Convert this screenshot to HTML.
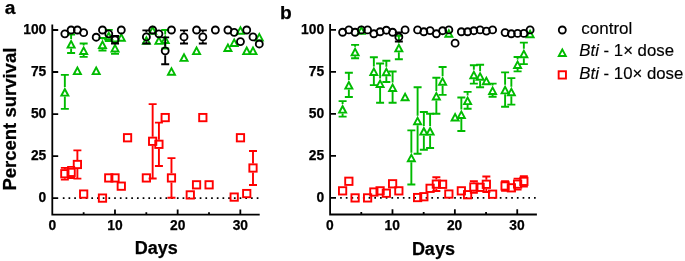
<!DOCTYPE html>
<html><head><meta charset="utf-8"><title>Percent survival</title>
<style>
html,body{margin:0;padding:0;background:#fff;}
body{width:685px;height:261px;overflow:hidden;}
svg{display:block;will-change:transform;}
text{font-family:"Liberation Sans",sans-serif;fill:#000;}
.tk{font-size:13.8px;font-weight:bold;stroke:#000;stroke-width:0.25px;}
.pl{font-size:19.2px;font-weight:bold;stroke:#000;stroke-width:0.25px;}
.yl{font-size:18.5px;font-weight:bold;stroke:#000;stroke-width:0.25px;}
.xl{font-size:18px;font-weight:bold;stroke:#000;stroke-width:0.25px;}
.lg{font-size:17px;stroke:#000;stroke-width:0.15px;}
</style></head><body>
<svg width="685" height="261" viewBox="0 0 685 261">
<rect width="685" height="261" fill="#fff"/>
<path d="M52.3 24.5V214.6H259.7M52.3 198.1h5.9M52.3 156.07h5.9M52.3 114.05h5.9M52.3 72.02h5.9M52.3 30h5.9M83.64 214.6v-2.4M114.98 214.6v-5.2M146.32 214.6v-2.4M177.66 214.6v-5.2M209 214.6v-2.4M240.34 214.6v-5.2" stroke="#000" stroke-width="1.8" fill="none" stroke-linejoin="miter" stroke-linecap="butt"/>
<path d="M62.82 198.1H259.2" stroke="#000" stroke-width="1.7" stroke-dasharray="1.7 4.003" fill="none"/>
<text x="46.3" y="202.45" text-anchor="end" class="tk">0</text>
<text x="46.3" y="160.42" text-anchor="end" class="tk">25</text>
<text x="46.3" y="118.4" text-anchor="end" class="tk">50</text>
<text x="46.3" y="76.37" text-anchor="end" class="tk">75</text>
<text x="46.3" y="34.35" text-anchor="end" class="tk">100</text>
<text x="52.3" y="230.3" text-anchor="middle" class="tk">0</text>
<text x="114.98" y="230.3" text-anchor="middle" class="tk">10</text>
<text x="177.66" y="230.3" text-anchor="middle" class="tk">20</text>
<text x="240.34" y="230.3" text-anchor="middle" class="tk">30</text>
<path d="M64.84 167.84V169.13M64.84 178.33V179.61M60.84 167.84H68.84M60.84 179.61H68.84" stroke="#ff0000" stroke-width="1.9" fill="none"/>
<rect x="61.19" y="170.08" width="7.3" height="7.3" stroke="#ff0000" stroke-width="1.9" fill="none"/>
<path d="M71.12 166.83V167.78M71.12 176.98V177.93M67.12 166.83H75.12M67.12 177.93H75.12" stroke="#ff0000" stroke-width="1.9" fill="none"/>
<rect x="67.47" y="168.73" width="7.3" height="7.3" stroke="#ff0000" stroke-width="1.9" fill="none"/>
<path d="M77.39 150.36V159.88M77.39 169.08V178.6M73.39 150.36H81.39M73.39 178.6H81.39" stroke="#ff0000" stroke-width="1.9" fill="none"/>
<rect x="73.74" y="160.83" width="7.3" height="7.3" stroke="#ff0000" stroke-width="1.9" fill="none"/>
<rect x="80.01" y="190.42" width="7.3" height="7.3" stroke="#ff0000" stroke-width="1.9" fill="none"/>
<rect x="98.83" y="194.45" width="7.3" height="7.3" stroke="#ff0000" stroke-width="1.9" fill="none"/>
<rect x="105.1" y="174.28" width="7.3" height="7.3" stroke="#ff0000" stroke-width="1.9" fill="none"/>
<rect x="111.37" y="174.28" width="7.3" height="7.3" stroke="#ff0000" stroke-width="1.9" fill="none"/>
<rect x="117.64" y="182.51" width="7.3" height="7.3" stroke="#ff0000" stroke-width="1.9" fill="none"/>
<rect x="123.91" y="134.1" width="7.3" height="7.3" stroke="#ff0000" stroke-width="1.9" fill="none"/>
<rect x="142.73" y="174.28" width="7.3" height="7.3" stroke="#ff0000" stroke-width="1.9" fill="none"/>
<path d="M152.65 104.13V136.68M152.65 145.88V178.43M148.65 104.13H156.65M148.65 178.43H156.65" stroke="#ff0000" stroke-width="1.9" fill="none"/>
<rect x="149" y="137.63" width="7.3" height="7.3" stroke="#ff0000" stroke-width="1.9" fill="none"/>
<path d="M158.92 122.62V139.71M158.92 148.91V165.99M154.92 122.62H162.92M154.92 165.99H162.92" stroke="#ff0000" stroke-width="1.9" fill="none"/>
<rect x="155.27" y="140.66" width="7.3" height="7.3" stroke="#ff0000" stroke-width="1.9" fill="none"/>
<rect x="161.55" y="113.93" width="7.3" height="7.3" stroke="#ff0000" stroke-width="1.9" fill="none"/>
<path d="M171.47 158.09V173.33M171.47 182.53V197.76M167.47 158.09H175.47M167.47 197.76H175.47" stroke="#ff0000" stroke-width="1.9" fill="none"/>
<rect x="167.82" y="174.28" width="7.3" height="7.3" stroke="#ff0000" stroke-width="1.9" fill="none"/>
<rect x="186.63" y="191.26" width="7.3" height="7.3" stroke="#ff0000" stroke-width="1.9" fill="none"/>
<rect x="192.91" y="181.17" width="7.3" height="7.3" stroke="#ff0000" stroke-width="1.9" fill="none"/>
<rect x="199.18" y="113.93" width="7.3" height="7.3" stroke="#ff0000" stroke-width="1.9" fill="none"/>
<rect x="205.45" y="181.17" width="7.3" height="7.3" stroke="#ff0000" stroke-width="1.9" fill="none"/>
<rect x="230.54" y="193.44" width="7.3" height="7.3" stroke="#ff0000" stroke-width="1.9" fill="none"/>
<rect x="236.81" y="134.1" width="7.3" height="7.3" stroke="#ff0000" stroke-width="1.9" fill="none"/>
<rect x="243.08" y="189.91" width="7.3" height="7.3" stroke="#ff0000" stroke-width="1.9" fill="none"/>
<path d="M253 151.03V163.41M253 172.61V184.99M249 151.03H257M249 184.99H257" stroke="#ff0000" stroke-width="1.9" fill="none"/>
<rect x="249.35" y="164.36" width="7.3" height="7.3" stroke="#ff0000" stroke-width="1.9" fill="none"/>
<path d="M64.84 74.88V87.11M64.84 96.61V108.84M60.84 74.88H68.84M60.84 108.84H68.84" stroke="#00bb00" stroke-width="1.9" fill="none"/>
<path d="M64.84 87.11L69.94 96.61H59.74ZM64.84 91.13L66.76 94.71H62.92Z" fill="#00bb00" fill-rule="evenodd"/>
<path d="M71.12 34.54V39.03M71.12 48.53V53.03M67.12 34.54H75.12M67.12 53.03H75.12" stroke="#00bb00" stroke-width="1.9" fill="none"/>
<path d="M71.12 39.03L76.22 48.53H66.02ZM71.12 43.05L73.04 46.63H69.2Z" fill="#00bb00" fill-rule="evenodd"/>
<path d="M77.39 65.59L82.49 75.09H72.29ZM77.39 69.61L79.31 73.19H75.47Z" fill="#00bb00" fill-rule="evenodd"/>
<path d="M83.66 43.45V45.42M83.66 54.92V56.9M79.66 43.45H87.66M79.66 56.9H87.66" stroke="#00bb00" stroke-width="1.9" fill="none"/>
<path d="M83.66 45.42L88.76 54.92H78.56ZM83.66 49.44L85.58 53.02H81.74Z" fill="#00bb00" fill-rule="evenodd"/>
<path d="M96.2 65.59L101.3 75.09H91.1ZM96.2 69.61L98.12 73.19H94.28Z" fill="#00bb00" fill-rule="evenodd"/>
<path d="M102.48 38.07V39.54M102.48 49.04V50.51M98.48 38.07H106.48M98.48 50.51H106.48" stroke="#00bb00" stroke-width="1.9" fill="none"/>
<path d="M102.48 39.54L107.58 49.04H97.38ZM102.48 43.56L104.4 47.14H100.56Z" fill="#00bb00" fill-rule="evenodd"/>
<path d="M108.75 29.83V30.63M108.75 40.13V40.93M104.75 29.83H112.75M104.75 40.93H112.75" stroke="#00bb00" stroke-width="1.9" fill="none"/>
<path d="M108.75 30.63L113.85 40.13H103.65ZM108.75 34.65L110.67 38.23H106.83Z" fill="#00bb00" fill-rule="evenodd"/>
<path d="M115.02 41.43V42.9M115.02 52.4V53.87M111.02 41.43H119.02M111.02 53.87H119.02" stroke="#00bb00" stroke-width="1.9" fill="none"/>
<path d="M115.02 42.9L120.12 52.4H109.92ZM115.02 46.92L116.94 50.5H113.1Z" fill="#00bb00" fill-rule="evenodd"/>
<path d="M121.29 32.14L126.39 41.64H116.19ZM121.29 36.16L123.21 39.74H119.37Z" fill="#00bb00" fill-rule="evenodd"/>
<path d="M146.38 35.34L151.48 44.84H141.28ZM146.38 39.36L148.3 42.94H144.46Z" fill="#00bb00" fill-rule="evenodd"/>
<path d="M152.65 25.25L157.75 34.75H147.55ZM152.65 29.27L154.57 32.85H150.73Z" fill="#00bb00" fill-rule="evenodd"/>
<path d="M158.92 35.34L164.02 44.84H153.82ZM158.92 39.36L160.84 42.94H157Z" fill="#00bb00" fill-rule="evenodd"/>
<path d="M165.2 30V34.5M165.2 44V48.49M161.2 30H169.2M161.2 48.49H169.2" stroke="#00bb00" stroke-width="1.9" fill="none"/>
<path d="M165.2 34.5L170.3 44H160.1ZM165.2 38.52L167.12 42.1H163.28Z" fill="#00bb00" fill-rule="evenodd"/>
<path d="M171.47 66.27L176.57 75.77H166.37ZM171.47 70.29L173.39 73.87H169.55Z" fill="#00bb00" fill-rule="evenodd"/>
<path d="M184.01 52.31L189.11 61.81H178.91ZM184.01 56.33L185.93 59.91H182.09Z" fill="#00bb00" fill-rule="evenodd"/>
<path d="M196.56 45.59L201.66 55.09H191.46ZM196.56 49.61L198.48 53.19H194.64Z" fill="#00bb00" fill-rule="evenodd"/>
<path d="M227.92 42.4L233.02 51.9H222.82ZM227.92 46.42L229.84 50H226Z" fill="#00bb00" fill-rule="evenodd"/>
<path d="M234.19 37.52L239.29 47.02H229.09ZM234.19 41.54L236.11 45.12H232.27Z" fill="#00bb00" fill-rule="evenodd"/>
<path d="M240.46 25.25L245.56 34.75H235.36ZM240.46 29.27L242.38 32.85H238.54Z" fill="#00bb00" fill-rule="evenodd"/>
<path d="M246.73 45.59L251.83 55.09H241.63ZM246.73 49.61L248.65 53.19H244.81Z" fill="#00bb00" fill-rule="evenodd"/>
<path d="M253 45.59L258.1 55.09H247.9ZM253 49.61L254.92 53.19H251.08Z" fill="#00bb00" fill-rule="evenodd"/>
<path d="M259.28 31.97L264.38 41.47H254.18ZM259.28 35.99L261.2 39.57H257.36Z" fill="#00bb00" fill-rule="evenodd"/>
<circle cx="64.84" cy="33.87" r="3.5" stroke="#000000" stroke-width="1.85" fill="none"/>
<circle cx="71.12" cy="30" r="3.5" stroke="#000000" stroke-width="1.85" fill="none"/>
<circle cx="77.39" cy="30" r="3.5" stroke="#000000" stroke-width="1.85" fill="none"/>
<circle cx="83.66" cy="32.69" r="3.5" stroke="#000000" stroke-width="1.85" fill="none"/>
<circle cx="96.2" cy="37.23" r="3.5" stroke="#000000" stroke-width="1.85" fill="none"/>
<circle cx="102.48" cy="30" r="3.5" stroke="#000000" stroke-width="1.85" fill="none"/>
<circle cx="108.75" cy="33.87" r="3.5" stroke="#000000" stroke-width="1.85" fill="none"/>
<path d="M111.02 36.05H119.02M111.02 43.45H119.02" stroke="#000000" stroke-width="1.9" fill="none"/>
<circle cx="115.02" cy="39.75" r="3.5" stroke="#000000" stroke-width="1.85" fill="none"/>
<circle cx="121.29" cy="30" r="3.5" stroke="#000000" stroke-width="1.85" fill="none"/>
<path d="M146.38 30.34V32.49M146.38 41.29V43.45M142.38 30.34H150.38M142.38 43.45H150.38" stroke="#000000" stroke-width="1.9" fill="none"/>
<circle cx="146.38" cy="36.89" r="3.5" stroke="#000000" stroke-width="1.85" fill="none"/>
<circle cx="152.65" cy="30" r="3.5" stroke="#000000" stroke-width="1.85" fill="none"/>
<circle cx="158.92" cy="33.87" r="3.5" stroke="#000000" stroke-width="1.85" fill="none"/>
<path d="M165.2 37.4V46.44M165.2 55.24V64.29M161.2 37.4H169.2M161.2 64.29H169.2" stroke="#000000" stroke-width="1.9" fill="none"/>
<circle cx="165.2" cy="50.84" r="3.5" stroke="#000000" stroke-width="1.85" fill="none"/>
<circle cx="171.47" cy="30" r="3.5" stroke="#000000" stroke-width="1.85" fill="none"/>
<path d="M184.01 30.34V32.49M184.01 41.29V43.45M180.01 30.34H188.01M180.01 43.45H188.01" stroke="#000000" stroke-width="1.9" fill="none"/>
<circle cx="184.01" cy="36.89" r="3.5" stroke="#000000" stroke-width="1.85" fill="none"/>
<circle cx="196.56" cy="30" r="3.5" stroke="#000000" stroke-width="1.85" fill="none"/>
<path d="M202.83 30.34V32.49M202.83 41.29V43.45M198.83 30.34H206.83M198.83 43.45H206.83" stroke="#000000" stroke-width="1.9" fill="none"/>
<circle cx="202.83" cy="36.89" r="3.5" stroke="#000000" stroke-width="1.85" fill="none"/>
<circle cx="215.37" cy="30" r="3.5" stroke="#000000" stroke-width="1.85" fill="none"/>
<circle cx="227.92" cy="30" r="3.5" stroke="#000000" stroke-width="1.85" fill="none"/>
<circle cx="234.19" cy="32.35" r="3.5" stroke="#000000" stroke-width="1.85" fill="none"/>
<circle cx="240.46" cy="41.6" r="3.5" stroke="#000000" stroke-width="1.85" fill="none"/>
<circle cx="246.73" cy="30" r="3.5" stroke="#000000" stroke-width="1.85" fill="none"/>
<circle cx="253" cy="36.89" r="3.5" stroke="#000000" stroke-width="1.85" fill="none"/>
<circle cx="259.28" cy="43.95" r="3.5" stroke="#000000" stroke-width="1.85" fill="none"/>
<path d="M330.1 24V214.5H536.9M330.1 197.9h5.9M330.1 155.9h5.9M330.1 113.9h5.9M330.1 71.9h5.9M330.1 29.9h5.9M361.29 214.5v-2.4M392.48 214.5v-5.2M423.67 214.5v-2.4M454.86 214.5v-5.2M486.05 214.5v-2.4M517.24 214.5v-5.2" stroke="#000" stroke-width="1.8" fill="none" stroke-linejoin="miter" stroke-linecap="butt"/>
<path d="M340.1 197.9H536.4" stroke="#000" stroke-width="1.7" stroke-dasharray="1.7 4.003" fill="none"/>
<text x="324.1" y="202.25" text-anchor="end" class="tk">0</text>
<text x="324.1" y="160.25" text-anchor="end" class="tk">25</text>
<text x="324.1" y="118.25" text-anchor="end" class="tk">50</text>
<text x="324.1" y="76.25" text-anchor="end" class="tk">75</text>
<text x="324.1" y="34.25" text-anchor="end" class="tk">100</text>
<text x="329.85" y="230.3" text-anchor="middle" class="tk">0</text>
<text x="392.23" y="230.3" text-anchor="middle" class="tk">10</text>
<text x="454.61" y="230.3" text-anchor="middle" class="tk">20</text>
<text x="516.99" y="230.3" text-anchor="middle" class="tk">30</text>
<rect x="338.95" y="187.19" width="7.3" height="7.3" stroke="#ff0000" stroke-width="1.9" fill="none"/>
<rect x="345.2" y="177.62" width="7.3" height="7.3" stroke="#ff0000" stroke-width="1.9" fill="none"/>
<rect x="351.45" y="194.25" width="7.3" height="7.3" stroke="#ff0000" stroke-width="1.9" fill="none"/>
<rect x="363.95" y="194.25" width="7.3" height="7.3" stroke="#ff0000" stroke-width="1.9" fill="none"/>
<rect x="370.2" y="188.37" width="7.3" height="7.3" stroke="#ff0000" stroke-width="1.9" fill="none"/>
<rect x="376.45" y="187.19" width="7.3" height="7.3" stroke="#ff0000" stroke-width="1.9" fill="none"/>
<rect x="382.7" y="189.55" width="7.3" height="7.3" stroke="#ff0000" stroke-width="1.9" fill="none"/>
<rect x="388.95" y="180.14" width="7.3" height="7.3" stroke="#ff0000" stroke-width="1.9" fill="none"/>
<rect x="395.2" y="187.19" width="7.3" height="7.3" stroke="#ff0000" stroke-width="1.9" fill="none"/>
<rect x="413.95" y="193.91" width="7.3" height="7.3" stroke="#ff0000" stroke-width="1.9" fill="none"/>
<rect x="420.2" y="193.07" width="7.3" height="7.3" stroke="#ff0000" stroke-width="1.9" fill="none"/>
<rect x="426.45" y="184.67" width="7.3" height="7.3" stroke="#ff0000" stroke-width="1.9" fill="none"/>
<path d="M436.35 177.24V179.52M436.35 188.72V191.01M432.35 177.24H440.35M432.35 191.01H440.35" stroke="#ff0000" stroke-width="1.9" fill="none"/>
<rect x="432.7" y="180.47" width="7.3" height="7.3" stroke="#ff0000" stroke-width="1.9" fill="none"/>
<rect x="438.95" y="180.64" width="7.3" height="7.3" stroke="#ff0000" stroke-width="1.9" fill="none"/>
<rect x="445.2" y="190.39" width="7.3" height="7.3" stroke="#ff0000" stroke-width="1.9" fill="none"/>
<rect x="457.7" y="187.19" width="7.3" height="7.3" stroke="#ff0000" stroke-width="1.9" fill="none"/>
<rect x="463.95" y="191.06" width="7.3" height="7.3" stroke="#ff0000" stroke-width="1.9" fill="none"/>
<path d="M473.85 181.1V182.38M473.85 191.58V192.86M469.85 181.1H477.85M469.85 192.86H477.85" stroke="#ff0000" stroke-width="1.9" fill="none"/>
<rect x="470.2" y="183.33" width="7.3" height="7.3" stroke="#ff0000" stroke-width="1.9" fill="none"/>
<rect x="476.45" y="183.67" width="7.3" height="7.3" stroke="#ff0000" stroke-width="1.9" fill="none"/>
<path d="M486.35 176.56V179.69M486.35 188.89V192.02M482.35 176.56H490.35M482.35 192.02H490.35" stroke="#ff0000" stroke-width="1.9" fill="none"/>
<rect x="482.7" y="180.64" width="7.3" height="7.3" stroke="#ff0000" stroke-width="1.9" fill="none"/>
<rect x="488.95" y="190.55" width="7.3" height="7.3" stroke="#ff0000" stroke-width="1.9" fill="none"/>
<path d="M505.1 181.27V181.37M505.1 190.57V190.68M501.1 181.27H509.1M501.1 190.68H509.1" stroke="#ff0000" stroke-width="1.9" fill="none"/>
<rect x="501.45" y="182.32" width="7.3" height="7.3" stroke="#ff0000" stroke-width="1.9" fill="none"/>
<rect x="507.7" y="184.17" width="7.3" height="7.3" stroke="#ff0000" stroke-width="1.9" fill="none"/>
<path d="M517.6 178.58V179.52M517.6 188.72V189.67M513.6 178.58H521.6M513.6 189.67H521.6" stroke="#ff0000" stroke-width="1.9" fill="none"/>
<rect x="513.95" y="180.47" width="7.3" height="7.3" stroke="#ff0000" stroke-width="1.9" fill="none"/>
<path d="M523.85 176.14V176.75M523.85 185.95V186.56M519.85 176.14H527.85M519.85 186.56H527.85" stroke="#ff0000" stroke-width="1.9" fill="none"/>
<rect x="520.2" y="177.7" width="7.3" height="7.3" stroke="#ff0000" stroke-width="1.9" fill="none"/>
<path d="M342.6 101.13V104.11M342.6 113.61V116.59M338.6 101.13H346.6M338.6 116.59H346.6" stroke="#00bb00" stroke-width="1.9" fill="none"/>
<path d="M342.6 104.11L347.7 113.61H337.5ZM342.6 108.13L344.52 111.71H340.68Z" fill="#00bb00" fill-rule="evenodd"/>
<path d="M348.85 72.74V80.09M348.85 89.59V96.93M344.85 72.74H352.85M344.85 96.93H352.85" stroke="#00bb00" stroke-width="1.9" fill="none"/>
<path d="M348.85 80.09L353.95 89.59H343.75ZM348.85 84.11L350.77 87.69H346.93Z" fill="#00bb00" fill-rule="evenodd"/>
<path d="M355.1 44.85V46.82M355.1 56.32V58.29M351.1 44.85H359.1M351.1 58.29H359.1" stroke="#00bb00" stroke-width="1.9" fill="none"/>
<path d="M355.1 46.82L360.2 56.32H350ZM355.1 50.84L357.02 54.42H353.18Z" fill="#00bb00" fill-rule="evenodd"/>
<path d="M361.35 25.15L366.45 34.65H356.25ZM361.35 29.17L363.27 32.75H359.43Z" fill="#00bb00" fill-rule="evenodd"/>
<path d="M373.85 57.28V66.48M373.85 75.98V85.17M369.85 57.28H377.85M369.85 85.17H377.85" stroke="#00bb00" stroke-width="1.9" fill="none"/>
<path d="M373.85 66.48L378.95 75.98H368.75ZM373.85 70.5L375.77 74.08H371.93Z" fill="#00bb00" fill-rule="evenodd"/>
<path d="M380.1 63.5V78.41M380.1 87.91V102.81M376.1 63.5H384.1M376.1 102.81H384.1" stroke="#00bb00" stroke-width="1.9" fill="none"/>
<path d="M380.1 78.41L385.2 87.91H375ZM380.1 82.43L382.02 86.01H378.18Z" fill="#00bb00" fill-rule="evenodd"/>
<path d="M386.35 60.81V66.65M386.35 76.15V81.98M382.35 60.81H390.35M382.35 81.98H390.35" stroke="#00bb00" stroke-width="1.9" fill="none"/>
<path d="M386.35 66.65L391.45 76.15H381.25ZM386.35 70.67L388.27 74.25H384.43Z" fill="#00bb00" fill-rule="evenodd"/>
<path d="M392.6 71.56V82.44M392.6 91.94V102.81M388.6 71.56H396.6M388.6 102.81H396.6" stroke="#00bb00" stroke-width="1.9" fill="none"/>
<path d="M392.6 82.44L397.7 91.94H387.5ZM392.6 86.46L394.52 90.04H390.68Z" fill="#00bb00" fill-rule="evenodd"/>
<path d="M398.85 35.78V42.79M398.85 52.29V59.3M394.85 35.78H402.85M394.85 59.3H402.85" stroke="#00bb00" stroke-width="1.9" fill="none"/>
<path d="M398.85 42.79L403.95 52.29H393.75ZM398.85 46.81L400.77 50.39H396.93Z" fill="#00bb00" fill-rule="evenodd"/>
<path d="M405.1 91.68L410.2 101.18H400ZM405.1 95.7L407.02 99.28H403.18Z" fill="#00bb00" fill-rule="evenodd"/>
<path d="M411.35 130.36V152.66M411.35 162.16V184.46M407.35 130.36H415.35M407.35 184.46H415.35" stroke="#00bb00" stroke-width="1.9" fill="none"/>
<path d="M411.35 152.66L416.45 162.16H406.25ZM411.35 156.68L413.27 160.26H409.43Z" fill="#00bb00" fill-rule="evenodd"/>
<path d="M417.6 87.19V115.7M417.6 125.2V153.72M413.6 87.19H421.6M413.6 153.72H421.6" stroke="#00bb00" stroke-width="1.9" fill="none"/>
<path d="M417.6 115.7L422.7 125.2H412.5ZM417.6 119.72L419.52 123.3H415.68Z" fill="#00bb00" fill-rule="evenodd"/>
<path d="M423.85 112.05V126.12M423.85 135.62V149.68M419.85 112.05H427.85M419.85 149.68H427.85" stroke="#00bb00" stroke-width="1.9" fill="none"/>
<path d="M423.85 126.12L428.95 135.62H418.75ZM423.85 130.14L425.77 133.72H421.93Z" fill="#00bb00" fill-rule="evenodd"/>
<path d="M430.1 113.73V126.12M430.1 135.62V148M426.1 113.73H434.1M426.1 148H434.1" stroke="#00bb00" stroke-width="1.9" fill="none"/>
<path d="M430.1 126.12L435.2 135.62H425ZM430.1 130.14L432.02 133.72H428.18Z" fill="#00bb00" fill-rule="evenodd"/>
<path d="M436.35 77.78V91.01M436.35 100.51V113.73M432.35 77.78H440.35M432.35 113.73H440.35" stroke="#00bb00" stroke-width="1.9" fill="none"/>
<path d="M436.35 91.01L441.45 100.51H431.25ZM436.35 95.03L438.27 98.61H434.43Z" fill="#00bb00" fill-rule="evenodd"/>
<path d="M442.6 67.03V76.22M442.6 85.72V94.92M438.6 67.03H446.6M438.6 94.92H446.6" stroke="#00bb00" stroke-width="1.9" fill="none"/>
<path d="M442.6 76.22L447.7 85.72H437.5ZM442.6 80.24L444.52 83.82H440.68Z" fill="#00bb00" fill-rule="evenodd"/>
<path d="M448.85 28.17L453.95 37.67H443.75ZM448.85 32.19L450.77 35.77H446.93Z" fill="#00bb00" fill-rule="evenodd"/>
<path d="M455.1 112.01L460.2 121.51H450ZM455.1 116.03L457.02 119.61H453.18Z" fill="#00bb00" fill-rule="evenodd"/>
<path d="M461.35 97.44V109.49M461.35 118.99V131.04M457.35 97.44H465.35M457.35 131.04H465.35" stroke="#00bb00" stroke-width="1.9" fill="none"/>
<path d="M461.35 109.49L466.45 118.99H456.25ZM461.35 113.51L463.27 117.09H459.43Z" fill="#00bb00" fill-rule="evenodd"/>
<path d="M467.6 91.89V95.54M467.6 105.04V108.69M463.6 91.89H471.6M463.6 108.69H471.6" stroke="#00bb00" stroke-width="1.9" fill="none"/>
<path d="M467.6 95.54L472.7 105.04H462.5ZM467.6 99.56L469.52 103.14H465.68Z" fill="#00bb00" fill-rule="evenodd"/>
<path d="M473.85 65.18V69.67M473.85 79.17V83.66M469.85 65.18H477.85M469.85 83.66H477.85" stroke="#00bb00" stroke-width="1.9" fill="none"/>
<path d="M473.85 69.67L478.95 79.17H468.75ZM473.85 73.69L475.77 77.27H471.93Z" fill="#00bb00" fill-rule="evenodd"/>
<path d="M480.1 64.68V71.18M480.1 80.68V87.19M476.1 64.68H484.1M476.1 87.19H484.1" stroke="#00bb00" stroke-width="1.9" fill="none"/>
<path d="M480.1 71.18L485.2 80.68H475ZM480.1 75.2L482.02 78.78H478.18Z" fill="#00bb00" fill-rule="evenodd"/>
<path d="M486.35 75.72L491.45 85.22H481.25ZM486.35 79.74L488.27 83.32H484.43Z" fill="#00bb00" fill-rule="evenodd"/>
<path d="M492.6 83.66V85.46M492.6 94.96V96.76M488.6 83.66H496.6M488.6 96.76H496.6" stroke="#00bb00" stroke-width="1.9" fill="none"/>
<path d="M492.6 85.46L497.7 94.96H487.5ZM492.6 89.48L494.52 93.06H490.68Z" fill="#00bb00" fill-rule="evenodd"/>
<path d="M505.1 72.4V84.79M505.1 94.29V106.68M501.1 72.4H509.1M501.1 106.68H509.1" stroke="#00bb00" stroke-width="1.9" fill="none"/>
<path d="M505.1 84.79L510.2 94.29H500ZM505.1 88.81L507.02 92.39H503.18Z" fill="#00bb00" fill-rule="evenodd"/>
<path d="M511.35 78.12V86.64M511.35 96.14V104.66M507.35 78.12H515.35M507.35 104.66H515.35" stroke="#00bb00" stroke-width="1.9" fill="none"/>
<path d="M511.35 86.64L516.45 96.14H506.25ZM511.35 90.66L513.27 94.24H509.43Z" fill="#00bb00" fill-rule="evenodd"/>
<path d="M517.6 56.95V59.42M517.6 68.92V71.4M513.6 56.95H521.6M513.6 71.4H521.6" stroke="#00bb00" stroke-width="1.9" fill="none"/>
<path d="M517.6 59.42L522.7 68.92H512.5ZM517.6 63.44L519.52 67.02H515.68Z" fill="#00bb00" fill-rule="evenodd"/>
<path d="M523.85 42.67V48.67M523.85 58.17V64.17M519.85 42.67H527.85M519.85 64.17H527.85" stroke="#00bb00" stroke-width="1.9" fill="none"/>
<path d="M523.85 48.67L528.95 58.17H518.75ZM523.85 52.69L525.77 56.27H521.93Z" fill="#00bb00" fill-rule="evenodd"/>
<path d="M530.1 28.68L535.2 38.18H525ZM530.1 32.7L532.02 36.28H528.18Z" fill="#00bb00" fill-rule="evenodd"/>
<circle cx="342.6" cy="32.25" r="3.5" stroke="#000000" stroke-width="1.85" fill="none"/>
<circle cx="348.85" cy="29.9" r="3.5" stroke="#000000" stroke-width="1.85" fill="none"/>
<circle cx="355.1" cy="32.25" r="3.5" stroke="#000000" stroke-width="1.85" fill="none"/>
<circle cx="361.35" cy="29.9" r="3.5" stroke="#000000" stroke-width="1.85" fill="none"/>
<circle cx="367.6" cy="29.9" r="3.5" stroke="#000000" stroke-width="1.85" fill="none"/>
<circle cx="373.85" cy="33.76" r="3.5" stroke="#000000" stroke-width="1.85" fill="none"/>
<circle cx="380.1" cy="31.75" r="3.5" stroke="#000000" stroke-width="1.85" fill="none"/>
<circle cx="386.35" cy="30.24" r="3.5" stroke="#000000" stroke-width="1.85" fill="none"/>
<circle cx="392.6" cy="32.25" r="3.5" stroke="#000000" stroke-width="1.85" fill="none"/>
<path d="M398.85 32.42V32.56M398.85 41.36V41.49M394.85 32.42H402.85M394.85 41.49H402.85" stroke="#000000" stroke-width="1.9" fill="none"/>
<circle cx="398.85" cy="36.96" r="3.5" stroke="#000000" stroke-width="1.85" fill="none"/>
<circle cx="405.1" cy="29.9" r="3.5" stroke="#000000" stroke-width="1.85" fill="none"/>
<circle cx="417.6" cy="29.9" r="3.5" stroke="#000000" stroke-width="1.85" fill="none"/>
<circle cx="423.85" cy="31.75" r="3.5" stroke="#000000" stroke-width="1.85" fill="none"/>
<circle cx="430.1" cy="30.57" r="3.5" stroke="#000000" stroke-width="1.85" fill="none"/>
<circle cx="436.35" cy="33.76" r="3.5" stroke="#000000" stroke-width="1.85" fill="none"/>
<circle cx="442.6" cy="30.74" r="3.5" stroke="#000000" stroke-width="1.85" fill="none"/>
<circle cx="448.85" cy="29.9" r="3.5" stroke="#000000" stroke-width="1.85" fill="none"/>
<circle cx="455.1" cy="43.17" r="3.5" stroke="#000000" stroke-width="1.85" fill="none"/>
<circle cx="461.35" cy="31.75" r="3.5" stroke="#000000" stroke-width="1.85" fill="none"/>
<circle cx="467.6" cy="31.75" r="3.5" stroke="#000000" stroke-width="1.85" fill="none"/>
<circle cx="473.85" cy="30.74" r="3.5" stroke="#000000" stroke-width="1.85" fill="none"/>
<circle cx="480.1" cy="29.9" r="3.5" stroke="#000000" stroke-width="1.85" fill="none"/>
<circle cx="486.35" cy="31.08" r="3.5" stroke="#000000" stroke-width="1.85" fill="none"/>
<circle cx="492.6" cy="29.9" r="3.5" stroke="#000000" stroke-width="1.85" fill="none"/>
<circle cx="505.1" cy="32.59" r="3.5" stroke="#000000" stroke-width="1.85" fill="none"/>
<circle cx="511.35" cy="33.76" r="3.5" stroke="#000000" stroke-width="1.85" fill="none"/>
<circle cx="517.6" cy="33.43" r="3.5" stroke="#000000" stroke-width="1.85" fill="none"/>
<circle cx="523.85" cy="33.43" r="3.5" stroke="#000000" stroke-width="1.85" fill="none"/>
<circle cx="530.1" cy="29.9" r="3.5" stroke="#000000" stroke-width="1.85" fill="none"/>
<text x="4.8" y="14.4" class="pl">a</text>
<text x="280" y="19" class="pl">b</text>
<text transform="translate(15.7 190.6) rotate(-90)" class="yl">Percent survival</text>
<text x="156.2" y="254.1" text-anchor="middle" class="xl">Days</text>
<text x="433.4" y="254.5" text-anchor="middle" class="xl">Days</text>
<circle cx="562.3" cy="30" r="3.5" stroke="#000000" stroke-width="1.85" fill="none"/>
<path d="M562.3 47.4L567.4 56.9H557.2ZM562.3 51.42L564.22 55H560.38Z" fill="#00bb00" fill-rule="evenodd"/>
<rect x="558.65" y="71.25" width="7.3" height="7.3" stroke="#ff0000" stroke-width="1.9" fill="none"/>
<text x="581.3" y="33.8" class="lg">control</text>
<text x="579.3" y="55.7" class="lg" style="font-size:16.8px"><tspan font-style="italic">Bti</tspan> - 1× dose</text>
<text x="579.3" y="78.8" class="lg" style="font-size:16.8px"><tspan font-style="italic">Bti</tspan> - 10× dose</text>
</svg>
</body></html>
